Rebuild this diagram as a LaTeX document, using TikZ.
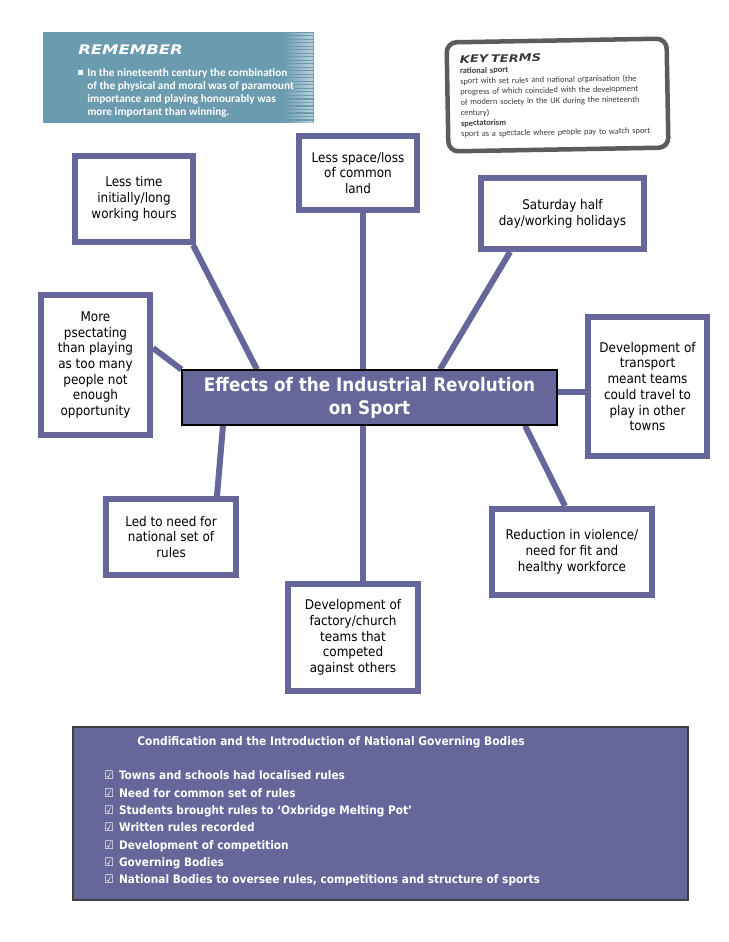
\documentclass[tikz,border=0pt]{standalone}
\usepackage{fontspec}
\setmainfont{DejaVu Sans Condensed}
\newfontfamily\notefont{Carlito}
\newfontfamily\stampfont[FakeStretch=1.25]{DejaVu Sans}
\usetikzlibrary{backgrounds,shadows}
\definecolor{mapblue}{HTML}{66669A}
\definecolor{remteal}{HTML}{6A9BAE}
\definecolor{keygrey}{HTML}{5C5C5C}
\definecolor{keytext}{HTML}{3A3A3A}
\newcommand\px{0.75pt}
\newcommand\boxtick{{\mdseries ☑}\hspace{4pt}}
\tikzset{
  effect/.style={draw=mapblue, line width=6*\px, fill=white, align=center, inner sep=0pt,
    font=\fontsize{10}{11.8}\selectfont},
  sz/.style 2 args={minimum width=#1*\px, minimum height=#2*\px},
  link/.style={draw=mapblue, line width=6*\px},
  centre box/.style={draw=black, line width=0.8pt, fill=mapblue, text=white, align=center,
    font=\bfseries\fontsize{14}{17.25}\selectfont, sz={375}{55}},
}
\begin{document}
\begin{tikzpicture}[x=0.75pt, y=-0.75pt]
\useasboundingbox (0,0) rectangle (728,942);

\node[fill=remteal, sz={271}{91}] (remember) at (178,77.5) {};
\foreach \y in {33.5,37,...,122}
  \shade[left color=remteal, right color=remteal!45!white] (283,\y) rectangle (313,\y+1.3);
\node[anchor=west, text=white, inner sep=0pt, font=\stampfont\bfseries\itshape\fontsize{9.9}{12}\selectfont]
  (remtitle) at (78,50) {REMEMBER};
\fill[white] (77.5,70) rectangle (83,75.5);
\node[anchor=west, text=white, align=left, inner sep=0pt, font=\notefont\bfseries\fontsize{8.5}{9.75}\selectfont]
  (remtext) at (87,92.5) {In the nineteenth century the combination\\of the physical and moral was of paramount\\importance and playing honourably was\\more important than winning.};

\node[draw=keygrey, line width=4.5*\px, fill=white, rounded corners=10*\px, rotate=1,
  drop shadow={opacity=0.35, shadow xshift=1.5pt, shadow yshift=-1.5pt},
  sz={220}{109}, text width=194*\px, align=left, inner sep=0pt, text=keytext,
  font=\notefont\fontsize{6.3}{7.9}\selectfont] (keyterms) at (557.5,95)
  {{\stampfont\bfseries\itshape\fontsize{7.8}{10}\selectfont KEY TERMS}\\
   \textbf{rational sport}\\
   sport with set rules and national organisation (the\\
   progress of which coincided with the development\\
   of modern society in the UK during the nineteenth\\
   century)\\
   \textbf{spectatorism}\\
   sport as a spectacle where people pay to watch sport};

\node[effect, sz={118}{86}] (time) at (134,199) {Less time\\initially/long\\working hours};
\node[effect, sz={118}{74}] (space) at (358,173) {Less space/loss\\of common\\land};
\node[effect, sz={163}{71}] (saturday) at (562.5,213.5) {Saturday half\\day/working holidays};
\node[effect, sz={109}{140}] (spect) at (95.5,365) {More\\psectating\\than playing\\as too many\\people not\\enough\\opportunity};
\node[centre box] (centre) at (369.5,397.5) {Effects of the Industrial Revolution\\on Sport};
\node[effect, sz={119}{139}] (transport) at (647.5,386.5) {Development of\\transport\\meant teams\\could travel to\\play in other\\towns};
\node[effect, sz={130}{76}] (rules) at (171,537) {Led to need for\\national set of\\rules};
\node[effect, sz={160}{86}] (reduction) at (572,552) {Reduction in violence/\\need for fit and\\healthy workforce};
\node[effect, sz={130}{107}] (factory) at (353,637.5) {Development of\\factory/church\\teams that\\competed\\against others};

\begin{scope}[on background layer]
  \draw[link] ([xshift=59*\px]time.south) -- ([xshift=-112.5*\px]centre.north);
  \draw[link] ([xshift=5*\px]space.south) -- ([xshift=-6.5*\px]centre.north);
  \draw[link] ([xshift=-52.5*\px]saturday.south) -- ([xshift=70.5*\px]centre.north);
  \draw[link] ([yshift=17*\px]spect.east) -- (centre.north west);
  \draw[link] ([yshift=5.5*\px]centre.east) -- ([yshift=-5.5*\px]transport.west);
  \draw[link] ([xshift=-146.5*\px]centre.south) -- ([xshift=46*\px]rules.north);
  \draw[link] ([xshift=-6.5*\px]centre.south) -- ([xshift=10*\px]factory.north);
  \draw[link] ([xshift=155.5*\px]centre.south) -- ([xshift=-7*\px]reduction.north);
\end{scope}

\node[fill=mapblue, draw=black!75, line width=0.8pt, sz={615}{173}] (codify) at (380.5,813.5) {};
\node[text=white, inner sep=0pt, font=\bfseries\fontsize{8.9}{10}\selectfont] (codtitle) at (331,742)
  {Condification and the Introduction of National Governing Bodies};
\node[anchor=west, text=white, align=left, inner sep=0pt, font=\bfseries\fontsize{8.8}{13}\selectfont]
  (codlist) at (104,828.5)
  {\boxtick Towns and schools had localised rules\\
   \boxtick Need for common set of rules\\
   \boxtick Students brought rules to ‘Oxbridge Melting Pot’\\
   \boxtick Written rules recorded\\
   \boxtick Development of competition\\
   \boxtick Governing Bodies\\
   \boxtick National Bodies to oversee rules, competitions and structure of sports};
\end{tikzpicture}
\end{document}
